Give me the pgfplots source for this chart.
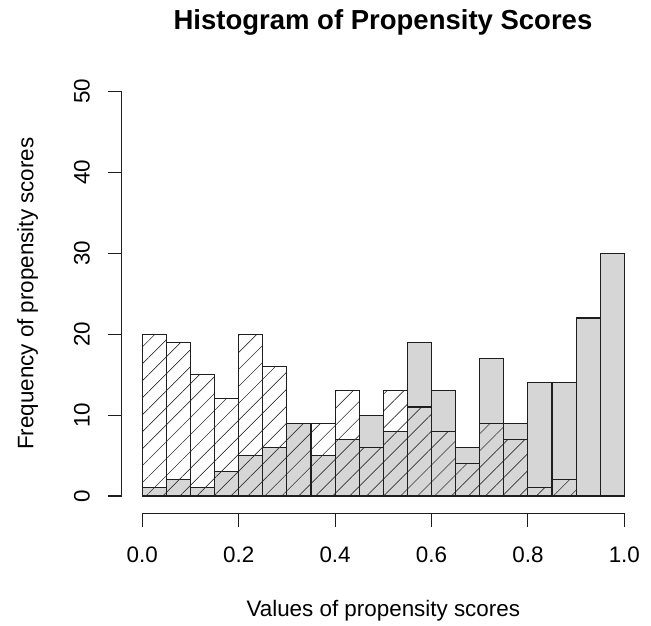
\documentclass[border=0pt]{standalone}
\usepackage{pgfplots}
\pgfplotsset{compat=1.18}
\usepackage{fontspec}
\setmainfont{Liberation Sans}
\usetikzlibrary{patterns.meta}
\definecolor{histgrey}{RGB}{214,214,214}
\definecolor{edge}{RGB}{30,30,30}
\begin{document}
\begin{tikzpicture}
\useasboundingbox (0,0) rectangle (651pt,625pt);
\node[font=\fontsize{27.5}{32}\selectfont\bfseries, anchor=base] at (383pt,595.7pt) {Histogram of Propensity Scores};
\begin{axis}[
  at={(123pt,112.8pt)}, anchor=south west,
  scale only axis, width=520.6pt, height=437pt,
  xmin=-0.04, xmax=1.04, ymin=-2, ymax=52,
  hide axis, clip=false,
]
% treated (grey)
\addplot[ybar interval, draw=edge, line width=1.1pt, fill=histgrey] coordinates {
(0.00,1) (0.05,2) (0.10,1) (0.15,3) (0.20,5) (0.25,6) (0.30,9) (0.35,5) (0.40,7) (0.45,10)
(0.50,8) (0.55,19) (0.60,13) (0.65,6) (0.70,17) (0.75,9) (0.80,14) (0.85,14) (0.90,22) (0.95,30) (1.00,30)};
% control (hatched)
\addplot[ybar interval, draw=edge, line width=1.1pt, pattern={Lines[angle=45,distance=12pt,line width=0.65pt]}, pattern color=black!80] coordinates {
(0.00,20) (0.05,19) (0.10,15) (0.15,12) (0.20,20) (0.25,16) (0.30,9) (0.35,9) (0.40,13) (0.45,6)
(0.50,13) (0.55,11) (0.60,8) (0.65,4) (0.70,9) (0.75,7) (0.80,1) (0.85,2) (0.90,0) (0.95,0) (1.00,0)};
% x axis
\draw[line width=1.1pt, edge] ([yshift=-1pt]axis cs:0,-2) -- ([yshift=-1pt]axis cs:1,-2);
\pgfplotsinvokeforeach{0.0,0.2,0.4,0.6,0.8,1.0}{
  \draw[line width=1.1pt, edge] ([yshift=-1pt]axis cs:#1,-2) -- ([yshift=-14.5pt]axis cs:#1,-2);
  \node[anchor=base, font=\fontsize{22.4}{26}\selectfont] at ([yshift=-50.5pt]axis cs:#1,-2) {#1};
}
% y axis
\draw[line width=1.1pt, edge] ([xshift=-1.5pt]axis cs:-0.04,0) -- ([xshift=-1.5pt]axis cs:-0.04,50);
\pgfplotsinvokeforeach{0,10,20,30,40,50}{
  \draw[line width=1.1pt, edge] ([xshift=-1.5pt]axis cs:-0.04,#1) -- ([xshift=-15pt]axis cs:-0.04,#1);
  \node[anchor=base, rotate=90, font=\fontsize{22.4}{26}\selectfont] at ([xshift=-33.5pt]axis cs:-0.04,#1) {#1};
}
\node[anchor=base, font=\fontsize{22.4}{26}\selectfont] at ([yshift=-104pt]axis cs:0.5,-2) {Values of propensity scores};
\node[anchor=base, rotate=90, font=\fontsize{22.4}{26}\selectfont] at ([xshift=-89.5pt]axis cs:-0.04,25) {Frequency of propensity scores};
\end{axis}
\end{tikzpicture}
\end{document}
